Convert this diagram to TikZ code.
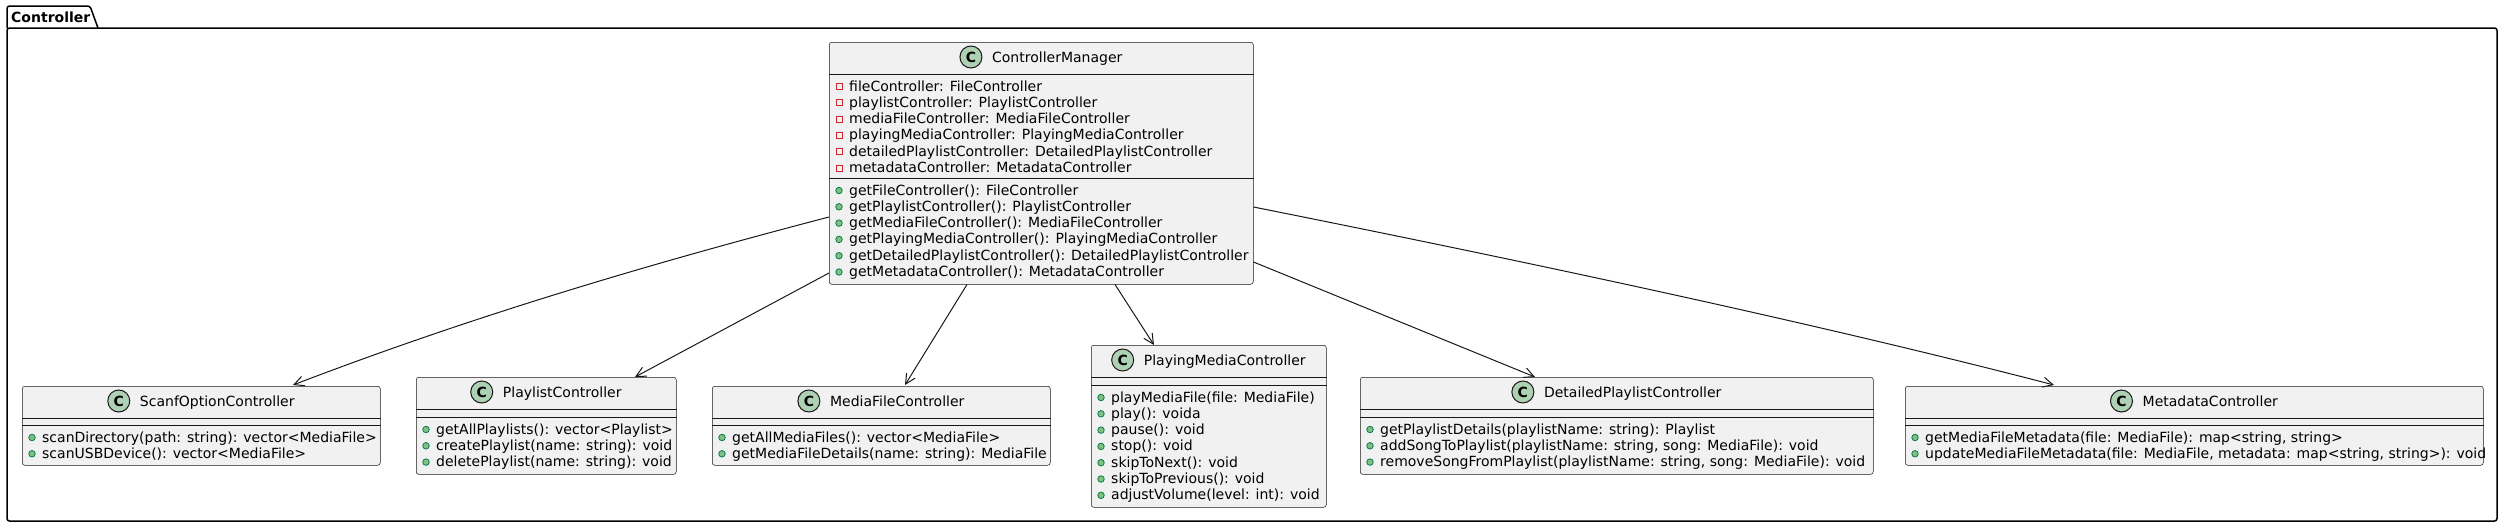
\documentclass[tikz,border=0pt]{standalone}
\usepackage{fontspec}
\setmainfont{DejaVu Sans}
\usetikzlibrary{calc,arrows.meta}
\definecolor{boxfill}{HTML}{F1F1F1}
\definecolor{boxline}{HTML}{181818}
\definecolor{cgreen}{HTML}{ADD1B2}
\definecolor{privred}{HTML}{C82930}
\definecolor{pubfill}{HTML}{84BE84}
\definecolor{publine}{HTML}{038048}
\newcounter{mrow}
\newcommand\pubrow[3]{%
  \stepcounter{mrow}%
  \node[member] (r\arabic{mrow}) at ($(#1.north west)+(20,{#2})$) {#3};
  \node[pubicon] (i\arabic{mrow}) at ($(#1.north west)+(10,{#2-4.5})$) {};}
\newcommand\privrow[3]{%
  \stepcounter{mrow}%
  \node[member] (r\arabic{mrow}) at ($(#1.north west)+(20,{#2})$) {#3};
  \node[privicon] (i\arabic{mrow}) at ($(#1.north west)+(10,{#2-4.5})$) {};}
\newcommand\classtitle[3]{%
  \node[ctitle] (#2) at ($(#1.north)+(16,20)$) {#3};
  \node[cicon] (#2c) at ($(#2.base west)+(-21,-5)$) {C};}
\newcommand\classseps[3]{%
  \draw[sepline] ($(#1.north west)+(0,#2)$) -- ($(#1.north east)+(0,#2)$);
  \draw[sepline] ($(#1.north west)+(0,#3)$) -- ($(#1.north east)+(0,#3)$);}
\begin{document}
\begin{tikzpicture}[x=1pt,y=-1pt,
  classbox/.style={draw=boxline, fill=boxfill, line width=0.5pt, rounded corners=2.5pt, inner sep=0pt, anchor=north west},
  sepline/.style={draw=boxline, line width=0.5pt},
  ctitle/.style={inner sep=0pt, anchor=base, font=\fontsize{14}{16}\selectfont},
  member/.style={inner sep=0pt, anchor=base west, font=\fontsize{14}{16}\selectfont},
  cicon/.style={circle, draw=boxline, fill=cgreen, line width=1pt, minimum size=22pt, inner sep=0pt, font=\bfseries\fontsize{14}{16}\selectfont},
  privicon/.style={draw=privred, line width=0.8pt, minimum size=6pt, inner sep=0pt},
  pubicon/.style={circle, draw=publine, fill=pubfill, line width=0.8pt, minimum size=6.5pt, inner sep=0pt},
  assoc/.style={draw=boxline, line width=1pt, -{Straight Barb[length=10pt,width=10pt]}},
  pkg/.style={draw=black, line width=1.5pt},
]
\useasboundingbox (0,0) rectangle (2504,528);
% package
\draw[pkg, rounded corners=2.5pt] (7,28) rectangle (2497,521);
\draw[pkg] (7,28) {[rounded corners=2.5pt] -- (7,6) -- (90,6)} -- (98,28);
\node[inner sep=0pt, anchor=base west, font=\bfseries\fontsize{14}{16}\selectfont] (pkgname) at (11,22) {Controller};

% boxes
\node[classbox, minimum width=424pt, minimum height=242pt] (cm) at (829,42) {};
\node[classbox, minimum width=358pt, minimum height=79pt] (scan) at (22,386) {};
\node[classbox, minimum width=260pt, minimum height=97pt] (playlist) at (416,377) {};
\node[classbox, minimum width=338pt, minimum height=79pt] (media) at (712,386) {};
\node[classbox, minimum width=235pt, minimum height=162pt] (playing) at (1091,345) {};
\node[classbox, minimum width=513pt, minimum height=97pt] (detailed) at (1360,377) {};
\node[classbox, minimum width=578pt, minimum height=79pt] (meta) at (1905,386) {};

% ControllerManager
\classseps{cm}{32}{136}
\classtitle{cm}{cmt}{ControllerManager}
\foreach \t [count=\i from 0] in {{fileController: FileController},{playlistController: PlaylistController},{mediaFileController: MediaFileController},{playingMediaController: PlayingMediaController},{detailedPlaylistController: DetailedPlaylistController},{metadataController: MetadataController}}
  {\privrow{cm}{49+16.3*\i}{\t}}
\foreach \t [count=\i from 0] in {{getFileController(): FileController},{getPlaylistController(): PlaylistController},{getMediaFileController(): MediaFileController},{getPlayingMediaController(): PlayingMediaController},{getDetailedPlaylistController(): DetailedPlaylistController},{getMetadataController(): MetadataController}}
  {\pubrow{cm}{153+16.3*\i}{\t}}

% ScanfOptionController
\classseps{scan}{32}{39}
\classtitle{scan}{scant}{ScanfOptionController}
\foreach \t [count=\i from 0] in {{scanDirectory(path: string): vector<MediaFile>},{scanUSBDevice(): vector<MediaFile>}}
  {\pubrow{scan}{56+16.3*\i}{\t}}

% PlaylistController
\classseps{playlist}{32}{40}
\classtitle{playlist}{playlistt}{PlaylistController}
\foreach \t [count=\i from 0] in {{getAllPlaylists(): vector<Playlist>},{createPlaylist(name: string): void},{deletePlaylist(name: string): void}}
  {\pubrow{playlist}{57+16.3*\i}{\t}}

% MediaFileController
\classseps{media}{32}{39}
\classtitle{media}{mediat}{MediaFileController}
\foreach \t [count=\i from 0] in {{getAllMediaFiles(): vector<MediaFile>},{getMediaFileDetails(name: string): MediaFile}}
  {\pubrow{media}{56+16.3*\i}{\t}}

% PlayingMediaController
\classseps{playing}{32}{40}
\classtitle{playing}{playingt}{PlayingMediaController}
\foreach \t [count=\i from 0] in {{playMediaFile(file: MediaFile)},{play(): voida},{pause(): void},{stop(): void},{skipToNext(): void},{skipToPrevious(): void},{adjustVolume(level: int): void}}
  {\pubrow{playing}{57+16.3*\i}{\t}}

% DetailedPlaylistController
\classseps{detailed}{32}{40}
\classtitle{detailed}{detailedt}{DetailedPlaylistController}
\foreach \t [count=\i from 0] in {{getPlaylistDetails(playlistName: string): Playlist},{addSongToPlaylist(playlistName: string, song: MediaFile): void},{removeSongFromPlaylist(playlistName: string, song: MediaFile): void}}
  {\pubrow{detailed}{57+16.3*\i}{\t}}

% MetadataController
\classseps{meta}{32}{39}
\classtitle{meta}{metat}{MetadataController}
\foreach \t [count=\i from 0] in {{getMediaFileMetadata(file: MediaFile): map<string, string>},{updateMediaFileMetadata(file: MediaFile, metadata: map<string, string>): void}}
  {\pubrow{meta}{56+16.3*\i}{\t}}

% connectors
\draw[assoc] ($(cm.north west)+(0,175)$) .. controls ($(cm.north west)+(-180,222)$) and ($(scan.north west)+(451,-70)$) .. ($(scan.north west)+(271,-1)$);
\draw[assoc] ($(cm.north west)+(0,231)$) -- ($(playlist.north west)+(219,0)$);
\draw[assoc] ($(cm.south west)+(138,0)$) -- ($(media.north west)+(193,-1)$);
\draw[assoc] ($(cm.south west)+(286,0)$) -- ($(playing.north west)+(63,0)$);
\draw[assoc] ($(cm.north east)+(0,220)$) -- ($(detailed.north west)+(175,0)$);
\draw[assoc] ($(cm.north east)+(0,165)$) .. controls ($(cm.north east)+(250,215)$) and ($(meta.north west)+(-101,-66)$) .. ($(meta.north west)+(149,-1)$);
\end{tikzpicture}
\end{document}
